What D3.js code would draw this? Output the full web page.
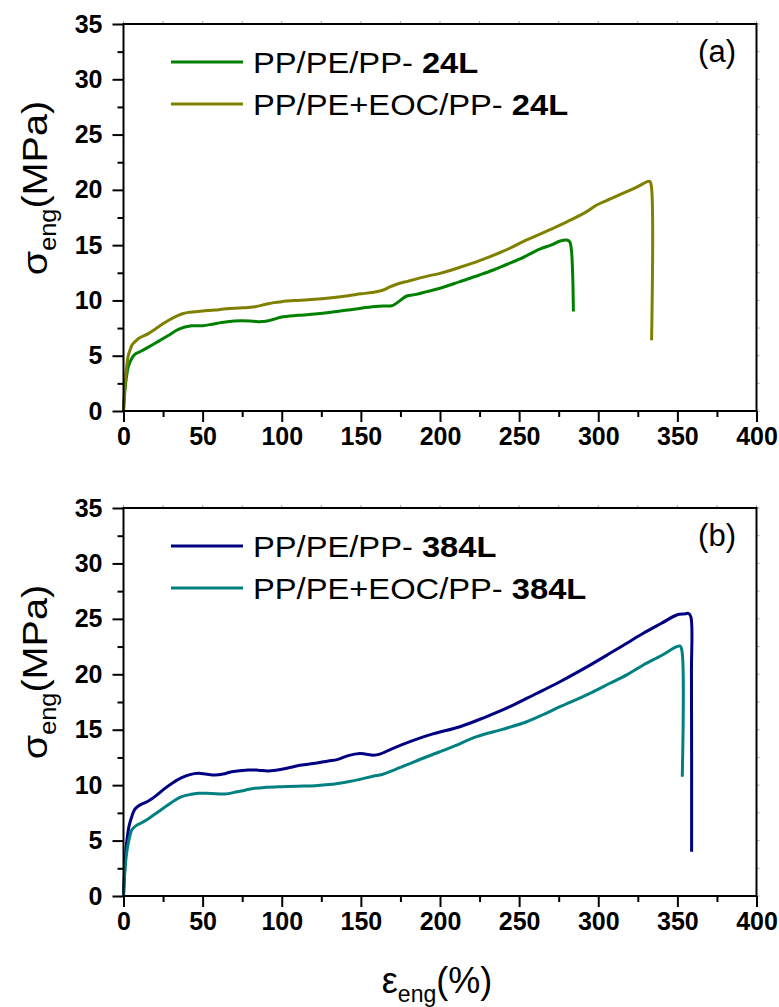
<!DOCTYPE html>
<html>
<head>
<meta charset="utf-8">
<script src="https://cdn.jsdelivr.net/npm/d3@7"></script>
<style>
  html, body { margin: 0; padding: 0; background: #fff; }
  svg { display: block; }
  text { font-family: "Liberation Sans", Arial, sans-serif; fill: #000; }
</style>
</head>
<body>
<svg id="chart" width="779" height="1007"></svg>
<script>
// Engineering stress–strain curves of PP/PE/PP multilayer films
const strainTicks = [0, 50, 100, 150, 200, 250, 300, 350, 400];
const stressTicks = [0, 5, 10, 15, 20, 25, 30, 35];

// (a) 24 layers
const strainPP24 = [0,1,2,3,5,7,11,16,22,28,35,43,50,56,62,70,75,80,85,90,95,100,110,121,130,142,150,159,165,169.5,172,174,179,185,191.6,200,212.6,225,233.7,242,250.5,263,270,276,280,282,283,283.8,284.3];
const stressPP24 = [0,2.0,3.2,4.0,4.7,5.1,5.4,5.8,6.3,6.8,7.4,7.7,7.72,7.85,8.0,8.15,8.17,8.15,8.08,8.12,8.3,8.5,8.65,8.77,8.9,9.13,9.3,9.45,9.5,9.52,9.7,9.9,10.4,10.55,10.8,11.1,11.7,12.3,12.75,13.25,13.75,14.65,15.0,15.37,15.46,15.3,14.6,12.5,9.0];
const strainEOC24 = [0,1,2,3,4.1,5.5,7.3,10,15.7,20,26.2,31,36.8,41,45.2,50,57.8,65,75,83.1,90,95,100,110,121,130,142,150,159,164.2,168,172.6,180,192,200,212.6,225,240,254.8,265,273.7,283,292.7,299,308,318,325,331,332.5,333.5,333.7];
const stressEOC24 = [0,2.5,4.0,5.0,5.5,6.0,6.27,6.6,7.0,7.4,8.0,8.4,8.77,8.92,8.98,9.05,9.13,9.25,9.33,9.43,9.65,9.8,9.89,10.0,10.1,10.22,10.43,10.6,10.76,10.94,11.2,11.46,11.75,12.2,12.45,13.0,13.6,14.45,15.47,16.1,16.67,17.3,18.03,18.63,19.2,19.83,20.3,20.74,20.78,20.4,6.4];

// (b) 384 layers
const strainPP384 = [0,1,2,3.5,5.2,7,9.4,12.5,15.7,21,26.2,31,36.8,42,47.3,52,57.8,63,68.4,78.9,85,91.5,100,106,112.6,120,129.4,135,142,149.4,152.6,157.9,162,170,181,195,212.6,228,244.2,260,275.8,292,307.4,318,328.5,340,349.6,355,357,358.5,358.9,359];
const stressPP384 = [0,3.0,4.8,6.3,7.15,7.8,8.12,8.35,8.57,9.1,9.71,10.2,10.67,10.95,11.07,11.0,10.91,11.0,11.21,11.37,11.35,11.28,11.43,11.62,11.82,11.95,12.18,12.3,12.66,12.85,12.81,12.7,12.8,13.3,13.92,14.6,15.27,16.1,17.08,18.2,19.33,20.6,21.89,22.8,23.7,24.6,25.35,25.45,25.5,25.2,20.0,4.0];
const strainEOC384 = [0,1,2,3.5,5.2,8,11.5,16,22,28,32,36.8,42,47.3,55,64.1,72,83.1,90,100,110,121,130,142,149.4,158.9,162,175,191.6,207,223.2,240,254.8,265,275.8,292,307.4,318,328.5,340,349.6,351.7,352.9,353.1];
const stressEOC384 = [0,2.5,3.9,5.1,5.95,6.35,6.61,7.0,7.6,8.2,8.6,8.96,9.15,9.26,9.25,9.2,9.4,9.71,9.8,9.86,9.9,9.95,10.05,10.31,10.52,10.85,10.91,11.6,12.56,13.4,14.37,15.05,15.72,16.35,17.08,18.1,19.19,19.95,20.84,21.7,22.49,22.55,22.1,10.76];

const panels = [
  {
    top: 24, bottom: 411, tag: "(a)",
    series: [
      { name: "PP/PE/PP- ", bold: "24L", color: "#008000", x: strainPP24, y: stressPP24 },
      { name: "PP/PE+EOC/PP- ", bold: "24L", color: "#808000", x: strainEOC24, y: stressEOC24 }
    ]
  },
  {
    top: 508, bottom: 896, tag: "(b)",
    series: [
      { name: "PP/PE/PP- ", bold: "384L", color: "#000080", x: strainPP384, y: stressPP384 },
      { name: "PP/PE+EOC/PP- ", bold: "384L", color: "#008080", x: strainEOC384, y: stressEOC384 }
    ]
  }
];

const svg = d3.select("#chart");
const left = 123.5, right = 756.5;

panels.forEach(p => {
  const x = d3.scaleLinear().domain([0, 400]).range([left, right]);
  const y = d3.scaleLinear().domain([0, 35]).range([p.bottom, p.top]);
  const g = svg.append("g");

  // faint ticks on the top and right frame edges
  g.selectAll(".tt").data(d3.range(0, 401, 25)).join("line")
    .attr("x1", d => x(d)).attr("x2", d => x(d))
    .attr("y1", p.top).attr("y2", p.top - 3)
    .attr("stroke", "#aaa").attr("stroke-width", 1);
  g.selectAll(".rt").data(d3.range(0, 35.1, 2.5)).join("line")
    .attr("x1", right).attr("x2", right + 3)
    .attr("y1", d => y(d)).attr("y2", d => y(d))
    .attr("stroke", "#aaa").attr("stroke-width", 1);

  // curves
  const line = d3.line()
    .x(d => x(d[0])).y(d => y(d[1]))
    .curve(d3.curveCatmullRom.alpha(0.5));
  p.series.forEach(s => {
    g.append("path")
      .datum(s.x.map((v, i) => [v, s.y[i]]))
      .attr("d", line)
      .attr("fill", "none")
      .attr("stroke", s.color)
      .attr("stroke-width", 3)
      .attr("stroke-linejoin", "round");
  });

  // frame
  g.append("rect")
    .attr("x", left).attr("y", p.top)
    .attr("width", right - left).attr("height", p.bottom - p.top)
    .attr("fill", "none").attr("stroke", "#000").attr("stroke-width", 2);

  // x axis
  const xAxis = d3.axisBottom(x).tickValues(strainTicks).tickSize(11).tickSizeOuter(0).tickPadding(5);
  const xa = g.append("g").attr("transform", `translate(0,${p.bottom})`).call(xAxis);
  xa.select(".domain").remove();
  xa.selectAll(".tick line").attr("stroke-width", 2);
  xa.selectAll(".tick text").attr("font-size", 25).attr("font-weight", "bold")
    .attr("font-family", "Liberation Sans, Arial, sans-serif").attr("dy", "0.71em");
  const xMinor = d3.axisBottom(x).tickValues(d3.range(25, 400, 50)).tickSize(6).tickFormat("");
  const xm = g.append("g").attr("transform", `translate(0,${p.bottom})`).call(xMinor);
  xm.select(".domain").remove();
  xm.selectAll(".tick line").attr("stroke-width", 2);

  // y axis
  const yAxis = d3.axisLeft(y).tickValues(stressTicks).tickSize(11).tickSizeOuter(0).tickPadding(10);
  const ya = g.append("g").attr("transform", `translate(${left},0)`).call(yAxis);
  ya.select(".domain").remove();
  ya.selectAll(".tick line").attr("stroke-width", 2);
  ya.selectAll(".tick text").attr("font-size", 25).attr("font-weight", "bold")
    .attr("font-family", "Liberation Sans, Arial, sans-serif");
  const yMinor = d3.axisLeft(y).tickValues(d3.range(2.5, 35, 5)).tickSize(6).tickFormat("");
  const ym = g.append("g").attr("transform", `translate(${left},0)`).call(yMinor);
  ym.select(".domain").remove();
  ym.selectAll(".tick line").attr("stroke-width", 2);

  // y axis title
  const yt = g.append("text")
    .attr("transform", `translate(47,${p.top + 164}) rotate(-90) scale(1.1,1)`)
    .attr("text-anchor", "middle")
    .attr("font-size", 36);
  yt.append("tspan").text("σ");
  yt.append("tspan").attr("font-size", 23).attr("dy", 9).text("eng");
  yt.append("tspan").attr("dy", -9).text("(MPa)");

  // legend
  p.series.forEach((s, i) => {
    const ly = p.top + 38 + i * 42;
    g.append("line")
      .attr("x1", 171).attr("x2", 243)
      .attr("y1", ly).attr("y2", ly)
      .attr("stroke", s.color).attr("stroke-width", 3);
    const t = g.append("text")
      .attr("transform", `translate(253,${ly + 11}) scale(1.09,1)`)
      .attr("font-size", 30);
    t.append("tspan").text(s.name);
    t.append("tspan").attr("font-weight", "bold").text(s.bold);
  });

  // panel tag
  g.append("text").attr("x", 736).attr("y", p.top + 38)
    .attr("text-anchor", "end").attr("font-size", 31).text(p.tag);
});

// x axis title
const xt = svg.append("text").attr("x", 437).attr("y", 993)
  .attr("text-anchor", "middle").attr("font-size", 36);
xt.append("tspan").text("ε");
xt.append("tspan").attr("font-size", 23).attr("dy", 9).text("eng");
xt.append("tspan").attr("dy", -9).text("(%)");
</script>
</body>
</html>
